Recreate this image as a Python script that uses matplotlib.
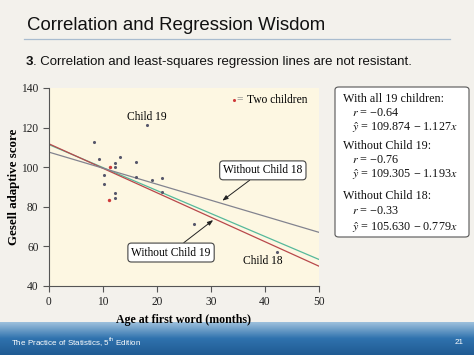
import matplotlib.pyplot as plt
import numpy as np
from matplotlib.patches import FancyBboxPatch
from matplotlib.colors import LinearSegmentedColormap

# DATA
age = [8.4, 9.25, 10.2, 10.1, 12.3, 12.3, 12.3, 12.3, 13.2, 16.2, 16.2,
       18.2, 19.1, 21.0, 21.0, 26.8, 42.3]
score = [112.8, 104.0, 96.1, 91.4, 102.2, 100.0, 86.8, 84.4, 105.0, 102.5,
         95.2, 121.1, 93.4, 94.4, 87.6, 71.1, 57.4]
# points that stand for two children
age_two = [11.3, 11.2]
score_two = [100.3, 83.4]

line_names = ["All 19 children", "Without Child 19", "Without Child 18"]
intercepts = [111.4, 111.8, 107.6]
slopes = [-1.16, -1.236, -0.81]
line_colors = ["#55b99b", "#b8484b", "#82838f"]

xticks = [0, 10, 20, 30, 40, 50]
yticks = [40, 60, 80, 100, 120, 140]

box_lines = [
    ("With all 19 children:", False),
    ("$r$ = \u22120.64", True),
    ("$\\hat{y}$ = 109.874 \u2212 1.127$x$", True),
    ("Without Child 19:", False),
    ("$r$ = \u22120.76", True),
    ("$\\hat{y}$ = 109.305 \u2212 1.193$x$", True),
    ("Without Child 18:", False),
    ("$r$ = \u22120.33", True),
    ("$\\hat{y}$ = 105.630 \u2212 0.779$x$", True),
]
box_rows = [99, 113, 128, 146, 160, 175, 196, 211, 228]  # pixel rows

plt.rcParams['mathtext.fontset'] = 'stix'
serif = "Liberation Serif"
sans = "Liberation Sans"

W, H = 474, 355
fig = plt.figure(figsize=(W / 100, H / 100), dpi=100)
fig.patch.set_facecolor("#f3f1ec")

# footer bar
foot = fig.add_axes([0, 0, 1, 33 / H])
grad = np.linspace(0, 1, 50).reshape(-1, 1)
foot.imshow(grad, aspect="auto", extent=[0, 1, 0, 1], origin="lower",
            cmap=LinearSegmentedColormap.from_list(
                "f", ["#1f5b93", "#2f72ae", "#9cc0dc"]))
foot.set_axis_off()
fig.text(11 / W, 1 - 343 / H, "The Practice of Statistics, 5$^{\\mathregular{th}}$ Edition",
         color="white", fontsize=5.8, family=sans, va="center")
fig.text(464 / W, 1 - 343 / H, "21", color="white", fontsize=5.8,
         family=sans, va="center", ha="right")

# title and subtitle
fig.text(27 / W, 1 - 26 / H, "Correlation and Regression Wisdom", fontsize=13.4,
         family=sans, va="center", color="#111111")
fig.add_artist(plt.Line2D([24 / W, 450 / W], [1 - 38.5 / H, 1 - 38.5 / H],
                          color="#a9bccf", lw=0.9))
fig.text(26 / W, 1 - 62 / H, "3", fontsize=9.5, family=sans,
         weight="bold", va="center", color="#111111")
fig.text(33 / W, 1 - 62 / H,
         ". Correlation and least-squares regression lines are not resistant.",
         fontsize=9.5, family=sans, va="center", color="#111111")

# scatter plot
ax = fig.add_axes([49 / W, 1 - 286 / H, 270 / W, 198 / H])
ax.set_facecolor("#fdf7e2")
xs = np.array([0, 50])
for b, m, c in zip(intercepts, slopes, line_colors):
    ax.plot(xs, b + m * xs, color=c, lw=0.9)
ax.scatter(age, score, s=5, color="#56576b", zorder=3, linewidths=0)
ax.scatter(age_two, score_two, s=6, color="#cf3a3a", zorder=3, linewidths=0)

ax.set_xlim(0, 50)
ax.set_ylim(40, 140)
ax.set_xticks(xticks)
ax.set_yticks(yticks)
for s in ["top", "right"]:
    ax.spines[s].set_visible(False)
for s in ["left", "bottom"]:
    ax.spines[s].set_color("#555555")
    ax.spines[s].set_linewidth(0.8)
ax.tick_params(direction="out", length=4, width=0.8, color="#555555",
               labelsize=8.3, labelcolor="#222222")
for lab in ax.get_xticklabels() + ax.get_yticklabels():
    lab.set_family(serif)
ax.set_xlabel("Age at first word (months)", family=serif,
              weight="bold", fontsize=8.6, labelpad=4)
ax.set_ylabel("Gesell adaptive score", family=serif,
              weight="bold", fontsize=9.3, labelpad=1)

ax.text(18.2, 125.6, "Child 19", family=serif, fontsize=8.3, ha="center", va="center")
ax.text(39.6, 52.6, "Child 18", family=serif, fontsize=8.3, ha="center", va="center")
ax.scatter([34.3], [134.1], s=5, color="#cf3a3a", linewidths=0)
ax.text(34.8, 134.1, "=", family=serif, fontsize=8.3, va="center", color="#888888")
ax.text(36.7, 134.1, "Two children", family=serif, fontsize=8.3, va="center")

bbox = dict(boxstyle="round,pad=0.3,rounding_size=0.3", fc="white", ec="#444444", lw=0.8)
arrow = dict(arrowstyle="-|>,head_length=0.4,head_width=0.15", color="#222222", lw=0.7,
             shrinkA=0, shrinkB=0)
ax.annotate("Without Child 18", xy=(32.1, 83.1), xytext=(39.6, 98.4),
            family=serif, fontsize=8.3, ha="center", va="center",
            bbox=bbox, arrowprops=arrow)
ax.annotate("Without Child 19", xy=(30.4, 73.3), xytext=(22.6, 56.9),
            family=serif, fontsize=8.3, ha="center", va="center",
            bbox=bbox, arrowprops=arrow)

# text box with the equations
fig.add_artist(FancyBboxPatch((335 / W, 1 - 237 / H), 134 / W, 150 / H,
                              boxstyle="round,pad=0,rounding_size=0.008",
                              transform=fig.transFigure, fc="white",
                              ec="#555555", lw=0.8))
for (txt, indent), row in zip(box_lines, box_rows):
    fig.text((352 if indent else 343) / W, 1 - row / H, txt, family=serif,
             fontsize=8.7, va="center", color="#111111")

fig.savefig("out.png", dpi=100, facecolor=fig.get_facecolor())
